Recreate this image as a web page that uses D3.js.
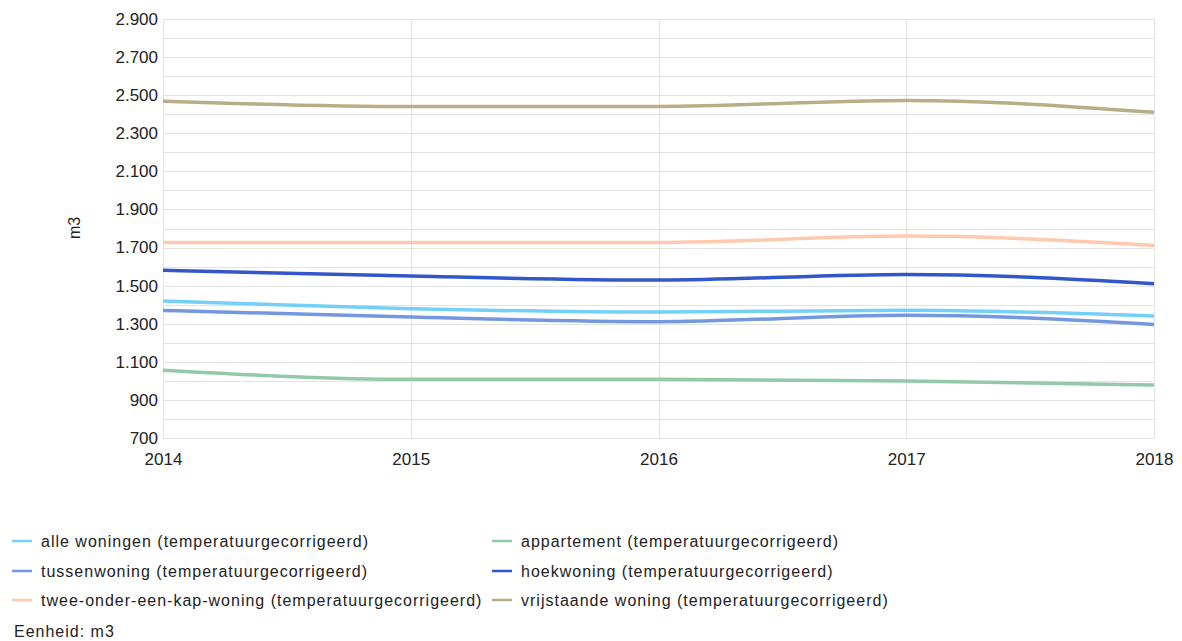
<!DOCTYPE html>
<html><head><meta charset="utf-8">
<script src="https://cdn.jsdelivr.net/npm/d3@7"></script>
<style>body{margin:0;background:#fff;font-family:"Liberation Sans",Arial,sans-serif;}</style>
</head><body>
<svg id="c" width="1182" height="641"></svg>
<script>
const years = [2014, 2015, 2016, 2017, 2018];
const yTicks = [700, 900, 1100, 1300, 1500, 1700, 1900, 2100, 2300, 2500, 2700, 2900];
const seriesNames = [
  "alle woningen (temperatuurgecorrigeerd)",
  "appartement (temperatuurgecorrigeerd)",
  "tussenwoning (temperatuurgecorrigeerd)",
  "hoekwoning (temperatuurgecorrigeerd)",
  "twee-onder-een-kap-woning (temperatuurgecorrigeerd)",
  "vrijstaande woning (temperatuurgecorrigeerd)"
];
const seriesColors = ["#74d0f8", "#93c9a8", "#7398e0", "#3456cb", "#ffc9ae", "#b7ae87"];
const alleWoningen = [1419, 1379, 1361, 1371, 1340];
const appartement = [1056, 1008, 1008, 999, 978];
const tussenwoning = [1370, 1335, 1311, 1345, 1296];
const hoekwoning = [1581, 1550, 1529, 1559, 1510];
const tweeOnderEenKap = [1727, 1727, 1727, 1760, 1711];
const vrijstaande = [2468, 2440, 2441, 2472, 2410];
const seriesValues = [alleWoningen, appartement, tussenwoning, hoekwoning, tweeOnderEenKap, vrijstaande];

const svg = d3.select("#c");
const L = 163, R = 1154, T = 19, B = 438;
const x = d3.scaleLinear().domain([2014, 2018]).range([L, R]);
const y = d3.scaleLinear().domain([700, 2900]).range([B, T]);
const fmt = v => d3.format(",")(v).replace(/,/g, ".");
const FONT = "Liberation Sans, Arial, sans-serif";

// horizontal gridlines every 100
const minor = d3.range(700, 2901, 100);
svg.append("g").selectAll("line").data(minor).join("line")
  .attr("x1", L).attr("x2", R).attr("y1", d => Math.round(y(d)) + 0.5).attr("y2", d => Math.round(y(d)) + 0.5)
  .attr("stroke", "#e3e3e3").attr("stroke-width", 1);
// vertical gridlines
svg.append("g").selectAll("line").data(years).join("line")
  .attr("x1", d => Math.round(x(d)) + 0.5).attr("x2", d => Math.round(x(d)) + 0.5)
  .attr("y1", T).attr("y2", B)
  .attr("stroke", "#e3e3e3").attr("stroke-width", 1);

// y axis labels
const yAxis = d3.axisLeft(y).tickValues(yTicks).tickFormat(fmt).tickSize(0).tickPadding(5);
const ga = svg.append("g").attr("transform", `translate(${L},0)`).call(yAxis);
ga.select(".domain").remove();
ga.selectAll("text").attr("font-family", FONT).attr("font-size", 17).attr("fill", "#222");

// x axis labels
const xAxis = d3.axisBottom(x).tickValues(years).tickFormat(d3.format("d")).tickSize(0).tickPadding(15);
const gx = svg.append("g").attr("transform", `translate(0,${B})`).call(xAxis);
gx.select(".domain").remove();
gx.selectAll("text").attr("font-family", FONT).attr("font-size", 17).attr("fill", "#222");

// y title
svg.append("text").attr("transform", "translate(80,228) rotate(-90)")
  .attr("text-anchor", "middle").attr("font-family", FONT).attr("font-size", 16).attr("fill", "#222").text("m3");

// lines
const line = d3.line().x((d, i) => x(years[i])).y(d => y(d)).curve(d3.curveMonotoneX);
svg.append("g").selectAll("path").data(seriesValues).join("path")
  .attr("d", d => line(d)).attr("fill", "none")
  .attr("stroke", (d, i) => seriesColors[i]).attr("stroke-width", 3.5)
  .attr("stroke-linejoin", "round");

// legend
const legX = [12, 492], legY = [541, 571, 600];
const lg = svg.append("g").attr("font-family", FONT);
seriesNames.forEach((n, i) => {
  const cx = legX[i % 2], cy = legY[Math.floor(i / 2)];
  lg.append("line").attr("x1", cx).attr("x2", cx + 20).attr("y1", cy).attr("y2", cy)
    .attr("stroke", seriesColors[i]).attr("stroke-width", 2.5);
  lg.append("text").attr("x", cx + 29).attr("y", cy + 6).attr("font-size", 16)
    .attr("letter-spacing", 1).attr("fill", "#222").text(n);
});
lg.append("text").attr("x", 14).attr("y", 637).attr("font-size", 16).attr("letter-spacing", 1)
  .attr("fill", "#222").text("Eenheid: m3");
</script>
</body></html>
